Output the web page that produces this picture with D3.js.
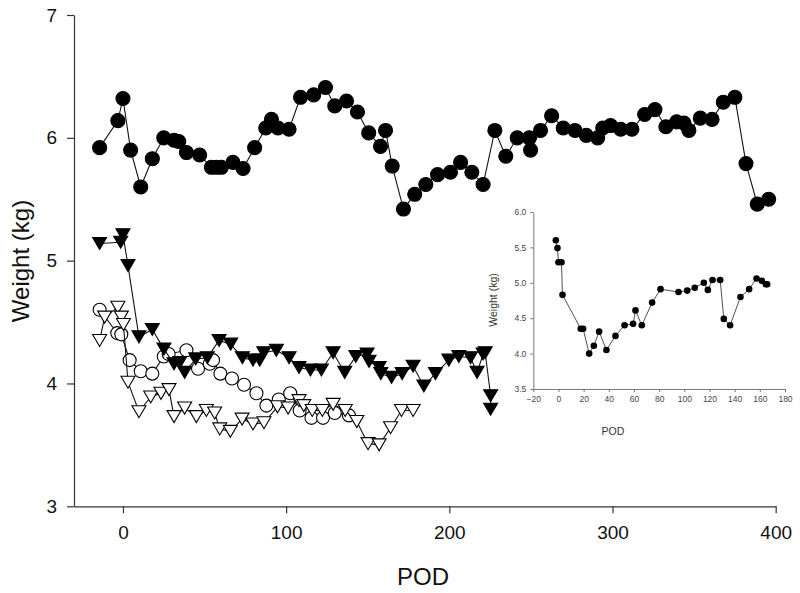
<!DOCTYPE html>
<html><head><meta charset="utf-8">
<script src="https://cdn.jsdelivr.net/npm/d3@7"></script>
<style>body{margin:0;background:#fff}svg{display:block}text{font-family:"Liberation Sans",Arial,sans-serif}</style>
</head><body>
<svg id="c" width="800" height="593"></svg>
<script>
// ---- main chart data ----
const xTicks = [0, 100, 200, 300, 400];
const yTicks = [3, 4, 5, 6, 7];

const filledCirclePod = [-14.3,-3.1,0,4.7,10.9,18,25,31.3,34.2,38.9,47,54.2,57.3,60.3,67.4,73.6,80.7,87.5,91,95,101.8,108.8,116.9,124.1,129.8,137,143.7,150.6,157.8,160.9,165,171.9,178.8,185.6,192.8,200.7,206.9,213.8,220.7,227.9,234.6,241.6,249,249.8,255.9,262.7,269.8,277,283.9,290.9,294,298.8,305,311.9,319.7,326,332.7,339.3,343.8,346.8,353.8,361,367.9,375,381.8,388.7,395.7];
const filledCircleWt = [5.92,6.14,6.32,5.90,5.60,5.83,6.00,5.98,5.97,5.88,5.86,5.76,5.76,5.76,5.80,5.75,5.92,6.08,6.15,6.08,6.07,6.33,6.35,6.41,6.26,6.30,6.21,6.04,5.93,6.06,5.77,5.42,5.54,5.62,5.70,5.72,5.80,5.72,5.62,6.06,5.85,6.00,6.00,5.90,6.06,6.18,6.08,6.06,6.02,6.00,6.08,6.10,6.07,6.07,6.19,6.23,6.09,6.13,6.12,6.06,6.16,6.15,6.29,6.33,5.79,5.46,5.50];

const filledTriPod = [-14.3,-1.4,0,3.1,9.8,18,25.1,31.3,34.8,37.8,44.6,51.7,58.9,66,73.2,79.7,83.8,86.3,94,101.8,107.9,114.9,121.6,128.8,135.9,142.7,149.6,150.8,157,158,164.6,171.1,177.8,184.4,191.5,199.7,205.8,213,217,220.7,222,225.3,225.3];
const filledTriWt = [5.14,5.15,5.21,4.96,4.38,4.44,4.28,4.16,4.17,4.09,4.20,4.21,4.35,4.32,4.21,4.19,4.19,4.25,4.27,4.21,4.13,4.11,4.11,4.25,4.09,4.22,4.24,4.18,4.13,4.08,4.05,4.08,4.14,3.98,4.08,4.19,4.22,4.21,4.09,4.24,4.25,3.90,3.79];

const openCirclePod = [-14.3,-3.5,-1,4.1,10.9,18,25,28,38.9,46,53.2,55.2,59.7,66.8,74.2,81.8,87.9,95.5,102.5,108.3,115.5,122.6,129.8,138.5];
const openCircleWt = [4.60,4.41,4.40,4.19,4.10,4.08,4.22,4.24,4.27,4.12,4.16,4.19,4.08,4.04,3.99,3.92,3.82,3.87,3.92,3.78,3.72,3.72,3.76,3.74];

const openTriPod = [-14.3,-11.2,-3.1,-1,0.3,3.1,9.8,17,23.3,28.2,31.3,37.8,45,51.1,56.2,59.3,65.8,73,79.7,86.4,94.7,101.2,107.9,110.8,116,122.2,128.8,136.2,143.3,150.2,157,164,170.7,177.8];
const openTriWt = [4.35,4.54,4.62,4.54,4.48,4.01,3.77,3.89,3.92,3.95,3.73,3.80,3.73,3.78,3.76,3.63,3.61,3.71,3.67,3.68,3.81,3.80,3.86,3.82,3.78,3.78,3.83,3.78,3.69,3.51,3.50,3.64,3.78,3.78];

// ---- inset data ----
const insetXTicks = [-20,0,20,40,60,80,100,120,140,160,180];
const insetYTicks = [3.5,4.0,4.5,5.0,5.5,6.0];
const insetPod = [-2.1,-0.8,0,2.4,3.2,17.7,19.6,24.4,28.1,32.3,38.1,45.3,52.5,59.3,61.2,66.2,74.4,81.1,95.4,102.3,108.3,115.5,118.7,122.4,128.5,131.4,136.4,144.6,151.5,157.4,161.6,164.8,165.8];
const insetWt = [5.60,5.49,5.29,5.29,4.83,4.35,4.35,4.00,4.11,4.31,4.05,4.25,4.40,4.42,4.61,4.40,4.72,4.91,4.87,4.89,4.93,5.00,4.90,5.04,5.04,4.49,4.40,4.80,4.91,5.06,5.03,4.98,4.98];

const svg = d3.select('#c');
const zip = (a,b) => a.map((v,i)=>[v,b[i]]);

// ---- main ----
const x = d3.scaleLinear().domain([-30,400]).range([74,775.7]);
const y = d3.scaleLinear().domain([3,7]).range([506.3,15]);

const axColor = '#333';
const gx = svg.append('g').attr('transform',`translate(0,${y(3)})`)
  .call(d3.axisBottom(x).tickValues(xTicks).tickFormat(d3.format('d')).tickSize(7).tickPadding(12).tickSizeOuter(0));
const gy = svg.append('g').attr('transform',`translate(${x(-30)},0)`)
  .call(d3.axisLeft(y).tickValues(yTicks).tickFormat(d3.format('d')).tickSize(7).tickPadding(10).tickSizeOuter(0));
[gx,gy].forEach(g=>{
  g.select('.domain').attr('stroke',axColor).attr('stroke-width',1.2);
  g.selectAll('.tick line').attr('stroke',axColor).attr('stroke-width',1.2);
  g.selectAll('.tick text').attr('font-size',19).attr('fill','#111');
});
svg.append('text').attr('x',423).attr('y',585).attr('text-anchor','middle').attr('font-size',24).attr('fill','#111').text('POD');
svg.append('text').attr('transform','translate(29,261) rotate(-90)').attr('text-anchor','middle').attr('font-size',24).attr('fill','#111').text('Weight (kg)');

const line = d3.line().x(d=>x(d[0])).y(d=>y(d[1]));
const triPath = 'M-7,-6L7,-6L0,6Z';

function series(data, kind, fill){
  svg.append('path').datum(data).attr('d',line).attr('fill','none').attr('stroke','#111').attr('stroke-width',1.1);
  const g = svg.append('g');
  if(kind==='circle'){
    g.selectAll('circle').data(data).join('circle')
      .attr('cx',d=>x(d[0])).attr('cy',d=>y(d[1])).attr('r',fill==='#000'?7:6.5)
      .attr('fill',fill).attr('stroke','#000').attr('stroke-width',1.1);
  } else {
    g.selectAll('path').data(data).join('path')
      .attr('transform',d=>`translate(${x(d[0])},${y(d[1])})`).attr('d',triPath)
      .attr('fill',fill).attr('stroke','#000').attr('stroke-width',1.1);
  }
}
series(zip(openCirclePod,openCircleWt),'circle','#fff');
series(zip(openTriPod,openTriWt),'tri','#fff');
series(zip(filledTriPod,filledTriWt),'tri','#000');
series(zip(filledCirclePod,filledCircleWt),'circle','#000');

// ---- inset ----
const ix = d3.scaleLinear().domain([-20,180]).range([533.3,785]);
const iy = d3.scaleLinear().domain([3.5,6]).range([389,212]);
const igx = svg.append('g').attr('transform',`translate(0,${iy(3.5)})`)
  .call(d3.axisBottom(ix).tickValues(insetXTicks).tickFormat(d3.format('d')).tickSize(3).tickPadding(4).tickSizeOuter(0));
const igy = svg.append('g').attr('transform',`translate(${ix(-20)},0)`)
  .call(d3.axisLeft(iy).tickValues(insetYTicks).tickFormat(d3.format('.1f')).tickSize(3).tickPadding(4).tickSizeOuter(0));
[igx,igy].forEach(g=>{
  g.select('.domain').attr('stroke','#777').attr('stroke-width',1);
  g.selectAll('.tick line').attr('stroke','#777');
  g.selectAll('.tick text').attr('font-size',8.5).attr('fill','#444');
});
svg.append('text').attr('x',613).attr('y',435).attr('text-anchor','middle').attr('font-size',10.5).attr('fill','#333').text('POD');
svg.append('text').attr('transform','translate(497,300) rotate(-90)').attr('text-anchor','middle').attr('font-size',10.5).attr('fill','#333').text('Weight (kg)');
const iline = d3.line().x(d=>ix(d[0])).y(d=>iy(d[1]));
const idata = zip(insetPod,insetWt);
svg.append('path').datum(idata).attr('d',iline).attr('fill','none').attr('stroke','#222').attr('stroke-width',0.8);
svg.append('g').selectAll('circle').data(idata).join('circle')
  .attr('cx',d=>ix(d[0])).attr('cy',d=>iy(d[1])).attr('r',3.3).attr('fill','#000');
</script>
</body></html>
